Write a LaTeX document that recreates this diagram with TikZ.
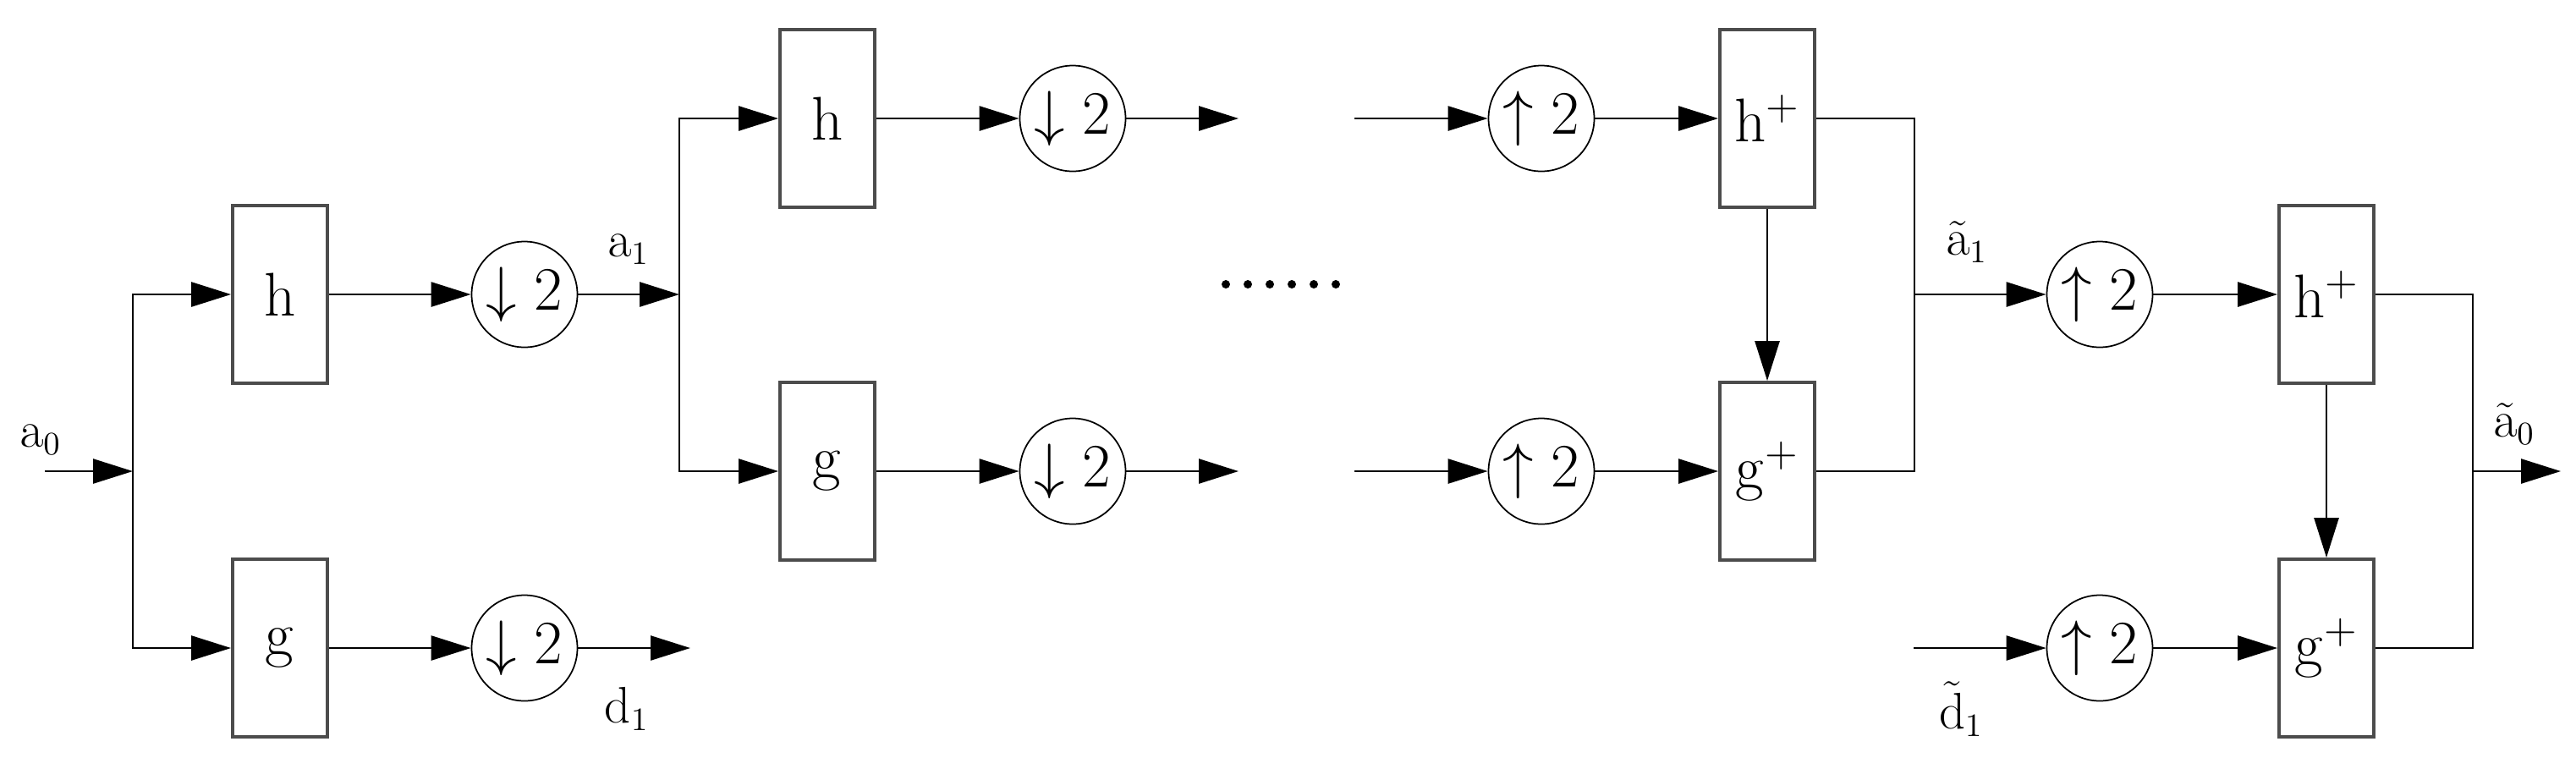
\documentclass[tikz,border=0pt]{standalone}
\usetikzlibrary{arrows.meta}
\begin{document}
\begin{tikzpicture}[
  blk/.style={draw=black!70, line width=1.1pt, minimum width=1.12cm, minimum height=2.1cm, inner sep=0pt, font=\fontsize{20}{24}\selectfont},
  rs/.style={draw=black, line width=0.5pt, circle, minimum size=1.25cm, inner sep=0pt, font=\fontsize{20}{24}\selectfont},
  lbl/.style={inner sep=0pt, font=\fontsize{16}{19}\selectfont},
  ln/.style={line width=0.75pt, black},
  arr/.style={ln, -{Triangle[length=4.7mm,width=2.9mm]}}
]
\useasboundingbox (0,0) rectangle (30.45,-9.08);
% ---------- stage 1 ----------
\coordinate (a0in) at (0.53,-5.57);
\coordinate (sp1) at (1.57,-5.57);
\node[blk] (h1) at (3.31,-3.48) {$\mathrm{h}$};
\node[blk] (g1) at (3.31,-7.66) {$\mathrm{g}$};
\node[rs] (dh1) at (6.20,-3.48) {$\downarrow 2$};
\node[rs] (dg1) at (6.20,-7.66) {$\downarrow 2$};
\coordinate (sp2) at (8.03,-3.48);
\coordinate (d1end) at (8.16,-7.66);
\draw[arr] (a0in) -- (sp1);
\draw[arr] (sp1) |- (h1.west);
\draw[arr] (sp1) |- (g1.west);
\draw[arr] (h1) -- (dh1);
\draw[arr] (g1) -- (dg1);
\draw[arr] (dh1) -- (sp2);
\draw[arr] (dg1) -- (d1end);
\node[lbl] (la0) at (0.48,-5.20) {$\mathrm{a}_0$};
\node[lbl] (la1) at (7.43,-2.95) {$\mathrm{a}_1$};
\node[lbl] (ld1) at (7.41,-8.38) {$\mathrm{d}_1$};
% ---------- stage 2 ----------
\node[blk] (h2) at (9.78,-1.40) {$\mathrm{h}$};
\node[blk] (g2) at (9.78,-5.57) {$\mathrm{g}$};
\node[rs] (dh2) at (12.68,-1.40) {$\downarrow 2$};
\node[rs] (dg2) at (12.68,-5.57) {$\downarrow 2$};
\coordinate (e2a) at (14.64,-1.40);
\coordinate (e2b) at (14.64,-5.57);
\draw[arr] (sp2) |- (h2.west);
\draw[arr] (sp2) |- (g2.west);
\draw[arr] (h2) -- (dh2);
\draw[arr] (g2) -- (dg2);
\draw[arr] (dh2) -- (e2a);
\draw[arr] (dg2) -- (e2b);
% dots
\foreach \i in {0,...,5} {
  \fill (14.49+0.26*\i,-3.36) circle (0.05);
}
% ---------- stage 3 ----------
\coordinate (s3a) at (16.01,-1.40);
\coordinate (s3b) at (16.01,-5.57);
\node[rs] (uh3) at (18.22,-1.40) {$\uparrow 2$};
\node[rs] (ug3) at (18.22,-5.57) {$\uparrow 2$};
\node[blk] (hp3) at (20.89,-1.40) {$\mathrm{h}^{+}$};
\node[blk] (gp3) at (20.89,-5.57) {$\mathrm{g}^{+}$};
\coordinate (m3) at (22.63,-3.48);
\draw[arr] (s3a) -- (uh3);
\draw[arr] (s3b) -- (ug3);
\draw[arr] (uh3) -- (hp3);
\draw[arr] (ug3) -- (gp3);
\draw[arr] (hp3) -- (gp3);
\draw[ln] (hp3.east) -| (m3) |- (gp3.east);
\node[lbl] (la1t) at (23.25,-2.86) {$\tilde{\mathrm{a}}_1$};
% ---------- stage 4 ----------
\coordinate (d1tin) at (22.62,-7.66);
\node[rs] (uh4) at (24.82,-3.48) {$\uparrow 2$};
\node[rs] (ug4) at (24.82,-7.66) {$\uparrow 2$};
\node[blk] (hp4) at (27.50,-3.48) {$\mathrm{h}^{+}$};
\node[blk] (gp4) at (27.50,-7.66) {$\mathrm{g}^{+}$};
\coordinate (m4) at (29.23,-5.57);
\coordinate (out) at (30.27,-5.57);
\draw[arr] (m3) -- (uh4);
\draw[arr] (d1tin) -- (ug4);
\draw[arr] (uh4) -- (hp4);
\draw[arr] (ug4) -- (gp4);
\draw[arr] (hp4) -- (gp4);
\draw[ln] (hp4.east) -| (m4) |- (gp4.east);
\draw[arr] (m4) -- (out);
\node[lbl] (la0t) at (29.72,-5.01) {$\tilde{\mathrm{a}}_0$};
\node[lbl] (ld1t) at (23.18,-8.38) {$\tilde{\mathrm{d}}_1$};
\end{tikzpicture}
\end{document}
